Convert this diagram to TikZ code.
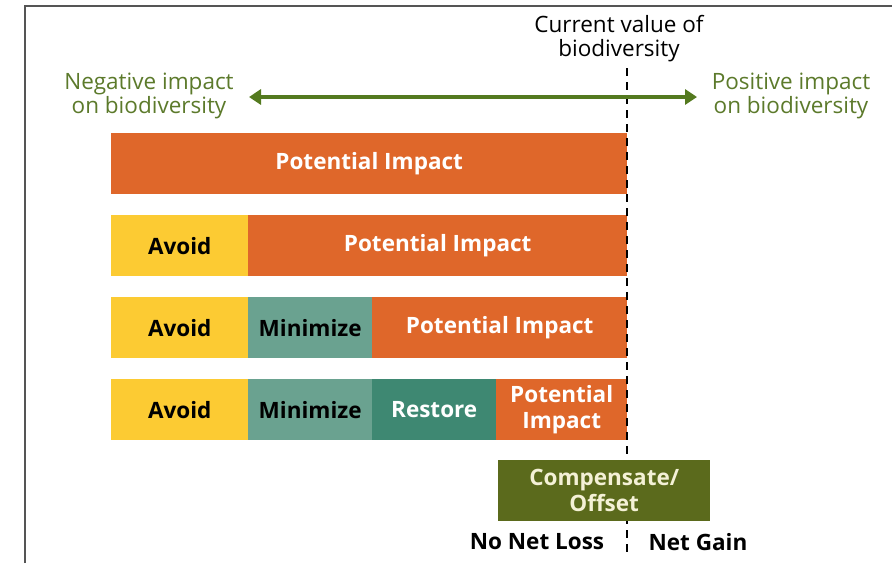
\documentclass[tikz,border=0pt]{standalone}
\usepackage{fontspec}
\usetikzlibrary{arrows.meta}
\setmainfont{Open Sans}
\newfontfamily\labfont{Open Sans}
\definecolor{orng}{HTML}{DF672A}
\definecolor{yel}{HTML}{FCCB33}
\definecolor{minc}{HTML}{6AA290}
\definecolor{resc}{HTML}{3E8872}
\definecolor{oliv}{HTML}{5B6A1C}
\definecolor{gtext}{HTML}{5C7A2B}
\definecolor{garrow}{HTML}{547A1F}
\definecolor{cream}{HTML}{F4F1D6}
\definecolor{frame}{HTML}{555555}
\tikzset{
  bar/.style={draw=none, minimum height=61pt, inner sep=0pt, anchor=north west,
    font=\labfont\bfseries\fontsize{22.5}{26}\selectfont, align=center},
  plain/.style={font=\fontsize{22.5}{24}\selectfont, align=center, inner sep=0pt},
  bold/.style={font=\labfont\bfseries\fontsize{22.5}{26}\selectfont, inner sep=0pt},
}
\begin{document}
\begin{tikzpicture}[x=1pt,y=-1pt]
\useasboundingbox (0,0) rectangle (892,563);
\fill[white] (0,0) rectangle (892,563);
% frame
\draw[frame, line width=2.5pt] (25,563) -- (25,6) -- (892,6);
% row 1
\node[bar, fill=orng, text=white, minimum width=516pt] (r1pi) at (111,133) {Potential Impact};
% row 2
\node[bar, fill=yel, text=black, minimum width=137pt] (r2av) at (111,215) {Avoid};
\node[bar, fill=orng, text=white, minimum width=379pt] (r2pi) at (248,215) {Potential Impact};
% row 3
\node[bar, fill=yel, text=black, minimum width=137pt] (r3av) at (111,297) {Avoid};
\node[bar, fill=minc, text=black, minimum width=124pt] (r3mi) at (248,297) {Minimize};
\node[bar, fill=orng, text=white, minimum width=255pt] (r3pi) at (372,297) {Potential Impact};
% row 4
\node[bar, fill=yel, text=black, minimum width=137pt] (r4av) at (111,379) {Avoid};
\node[bar, fill=minc, text=black, minimum width=124pt] (r4mi) at (248,379) {Minimize};
\node[bar, fill=resc, text=white, minimum width=124pt] (r4re) at (372,379) {Restore};
\node[bar, fill=orng, text=white, minimum width=131pt] (r4pi) at (496,379) {Potential\\Impact};
% dashed line
\coordinate (dtop) at (627,68);
\coordinate (dbot) at (627,556);
\draw[black, line width=2.5pt, dash pattern=on 8pt off 6pt] (dtop) -- (dbot);
% compensate
\node[bar, fill=oliv, text=cream, minimum width=212pt] (comp) at (498,460) {Compensate/\\Offset};
% arrow
\coordinate (al) at (249,97);
\coordinate (ar) at (697,97);
\draw[garrow, line width=4pt, {Triangle[length=12pt,width=15pt]}-{Triangle[length=12pt,width=15pt]}] (al) -- (ar);
% labels
\node[plain, text=black] (cur) at (619,39) {Current value of\\biodiversity};
\node[plain, text=gtext] (neg) at (149,96) {Negative impact\\on biodiversity};
\node[plain, text=gtext] (pos) at (791,96) {Positive impact\\on biodiversity};
\node[bold, text=black] (nnl) at (537,542) {No Net Loss};
\node[bold, text=black] (ng) at (698,542) {Net Gain};
\end{tikzpicture}
\end{document}
